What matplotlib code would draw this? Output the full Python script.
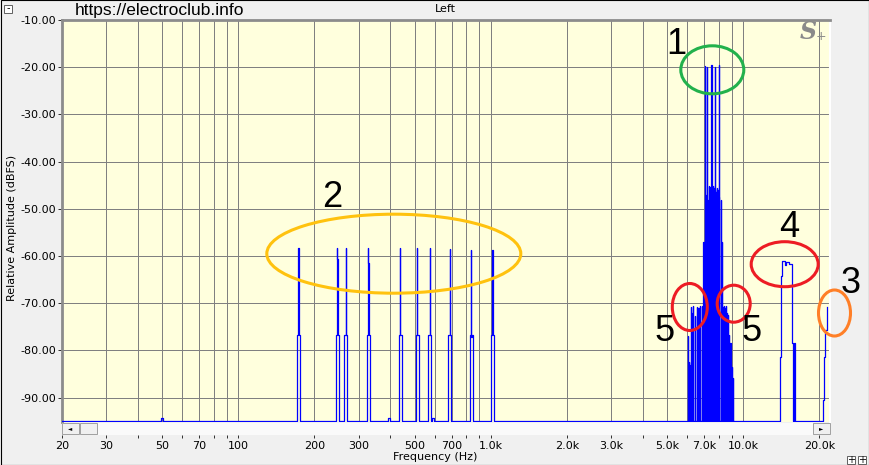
import matplotlib.pyplot as plt
from matplotlib.patches import Ellipse, Rectangle
import numpy as np

# analyser noise floor (dBFS)
floor_db = -95.0

# low group of tones (marked 2)
low_freqs = [173, 246, 266, 327, 438, 511, 573, 687, 837, 1014]
low_peak = [-58.3, -58.3, -58.3, -58.3, -58.3, -58.3, -58.3, -58.5, -58.8, -58.8]
low_side = [-69.5, -60.6, -76.7, -61.5, -76.8, -76.8, -76.8, -76.8, -77.2, -63.0]
low_shoulder = -76.7

# tiny bumps on the floor
bump_freqs = [50, 395, 590]
bump_level = -94.4

# main cluster (1) with its sidebands (5)
comb_freqs = [6026, 6100, 6155, 6190, 6266, 6342, 6441, 6543, 6639, 6742, 6848, 6949,
              7038, 7100, 7168, 7252, 7300, 7339, 7406, 7475, 7520, 7568, 7638, 7693, 7752,
              7800, 7843, 7916, 7980, 8040, 8142, 8218, 8292, 8370, 8444, 8530, 8600, 8704,
              8806, 8904, 9002, 9100]
comb_levels = [-77.0, -82.5, -83.0, -70.7, -72.0, -70.5, -72.8, -70.8, -71.0, -70.5, -70.5, -57.0,
               -19.7, -47.0, -19.9, -48.2, -45.5, -45.1, -45.3, -19.5, -46.0, -45.2, -45.6, -46.0,
               -20.0, -46.5, -45.6, -46.0, -47.5, -19.5, -48.2, -57.0, -70.7, -70.5, -71.0, -70.5,
               -72.0, -72.4, -76.7, -78.4, -83.4, -85.8]

# band around 14-16 kHz (4)
band_freqs = [13988, 14152, 14284, 14600, 14776, 15200, 15530, 15604, 15700, 15900, 15975]
band_levels = [-81.3, -64.3, -61.1, -61.9, -61.3, -61.6, -66.4, -78.4, -95.0, -78.4, -95.0]

# rise near Nyquist (3)
top_freqs = [20766, 20954, 21146, 21420]
top_levels = [-90.4, -81.3, -75.6, -70.7]

# axis ticks
grid_freqs = [20, 30, 40, 50, 60, 70, 80, 90, 100, 200, 300, 400, 500, 600, 700, 800, 900,
              1000, 2000, 3000, 4000, 5000, 6000, 7000, 8000, 9000, 10000, 20000]
xtick_vals = [20, 30, 50, 70, 100, 200, 300, 500, 700, 1000, 2000, 3000, 5000, 7000, 10000, 20000]
xtick_text = ['20', '30', '50', '70', '100', '200', '300', '500', '700', '1.0k', '2.0k', '3.0k',
              '5.0k', '7.0k', '10.0k', '20.0k']
ytick_vals = [-10, -20, -30, -40, -50, -60, -70, -80, -90]

# one screen pixel as a frequency ratio
px = 10 ** (np.log10(22050 / 20) / 768)

pts = [(20, floor_db)]
for f in bump_freqs:
    pts += [(f / px, bump_level), (f * px, floor_db)]
for f, pk, sd in zip(low_freqs, low_peak, low_side):
    pts += [(f / px ** 1.4, low_shoulder), (f / px ** 0.1, pk), (f * px ** 0.1, sd),
            (f * px ** 0.9, low_shoulder), (f * px ** 1.6, floor_db)]
for f, lv in zip(comb_freqs, comb_levels):
    pts += [(f / px ** 0.1, lv), (f * px ** 0.1, floor_db)]
pts += list(zip(band_freqs, band_levels))
pts += list(zip(top_freqs, top_levels))
pts.sort(key=lambda p: p[0])
fx = [p[0] for p in pts]
fy = [p[1] for p in pts]

W, H = 870, 465
fig = plt.figure(figsize=(8.7, 4.65), dpi=100, facecolor='#F0F0F0')
ax = fig.add_axes([62 / W, 43 / H, 768 / W, 402 / H])
ax.set_facecolor('#FFFFDD')
ax.set_xscale('log')
ax.set_xlim(20, 22050)
ax.set_ylim(-95.15, -10)

ax.plot(fx, fy, drawstyle='steps-post', color='#0000FF', lw=0.9, snap=True, zorder=3)

for g in grid_freqs:
    ax.axvline(g, color='#808080', lw=0.7, antialiased=False, zorder=1)
for v in ytick_vals:
    ax.axhline(v, color='#808080', lw=0.7, antialiased=False, zorder=1)

ax.set_xticks(grid_freqs, labels=[xtick_text[xtick_vals.index(g)] if g in xtick_vals else ''
                                  for g in grid_freqs])
ax.xaxis.set_minor_locator(plt.NullLocator())
ax.set_yticks(ytick_vals, labels=['%.2f' % v for v in ytick_vals])
ax.tick_params(axis='x', length=2.5, width=0.7, color='#303030', pad=2, labelsize=8)
ax.tick_params(axis='y', length=3, width=0.7, color='#303030', pad=1.5, labelsize=8)

ax.spines['bottom'].set_position(('outward', 9.4))
ax.spines['bottom'].set_visible(False)
ax.spines['left'].set_color('#8C8C8C')
ax.spines['left'].set_linewidth(2)
ax.spines['top'].set_color('#8C8C8C')
ax.spines['top'].set_linewidth(2)
ax.spines['right'].set_color('white')
ax.spines['right'].set_linewidth(1.5)

# overlay in pixel coordinates for window chrome and hand drawn marks
ov = fig.add_axes([0, 0, 1, 1], facecolor='none')
ov.set_xlim(0, W)
ov.set_ylim(H, 0)
ov.axis('off')

ov.add_patch(Rectangle((0.5, 0.5), W - 1, H - 1, fill=False, ec='black', lw=0.8))
# scrollbar
ov.add_patch(Rectangle((62, 423), 768, 12, fc='#FAFAFA', ec='none'))
for x0 in (62, 813):
    ov.add_patch(Rectangle((x0, 423), 17, 11, fc='#F0F0F0', ec='#A0A0A0', lw=0.7))
ov.add_patch(Rectangle((80, 423), 17, 11, fc='#F0F0F0', ec='#A0A0A0', lw=0.7))
ov.text(70.5, 428.5, '\u25c4', fontsize=4, ha='center', va='center')
ov.text(821.5, 428.5, '\u25ba', fontsize=4, ha='center', va='center')
# small window buttons
ov.add_patch(Rectangle((4, 5), 8, 8, fc='white', ec='#606060', lw=0.7))
ov.text(8, 8.5, '-', fontsize=7, ha='center', va='center')
for x0 in (847, 858):
    ov.add_patch(Rectangle((x0, 456), 8, 8, fc='white', ec='#606060', lw=0.7))
    ov.text(x0 + 4, 460, '+', fontsize=7, ha='center', va='center')

ov.text(75, 10, 'https://electroclub.info', fontsize=12.5, family='Liberation Sans',
        ha='left', va='center')
ov.text(445, 9, 'Left', fontsize=8, ha='center', va='center')
ov.text(808, 32, 'S', fontsize=17, family='DejaVu Serif', style='italic', weight='bold',
        color='#8A8A8A', ha='center', va='center')
ov.text(821, 36, '+', fontsize=9, color='#8A8A8A', ha='center', va='center', zorder=5)
ov.text(12, 228, 'Relative Amplitude (dBFS)', fontsize=8, rotation=90, ha='center', va='center')
ov.text(435, 457, 'Frequency (Hz)', fontsize=8, ha='center', va='center')

# hand drawn marks
marks = [((712.3, 69.8), 63, 48, '#22B14C', '1', (676, 44)),
         ((393.8, 253.7), 254, 79, '#FFC20E', '2', (332, 197)),
         ((834.5, 313), 32, 46, '#FF7F27', '3', (851, 283)),
         ((784.7, 264.2), 67, 45, '#ED1C24', '4', (789, 227)),
         ((689.8, 307), 35, 47, '#ED1C24', '5', (665, 331)),
         ((733.7, 303.7), 33, 37, '#ED1C24', '5', (752, 331))]
for c, w, h, col, lab, tp in marks:
    ov.add_patch(Ellipse(c, w, h, fill=False, ec=col, lw=2.2))
    ov.text(tp[0], tp[1], lab, fontsize=26, family='Liberation Sans', ha='center', va='center')

fig.savefig('out.png', dpi=100, facecolor=fig.get_facecolor())
